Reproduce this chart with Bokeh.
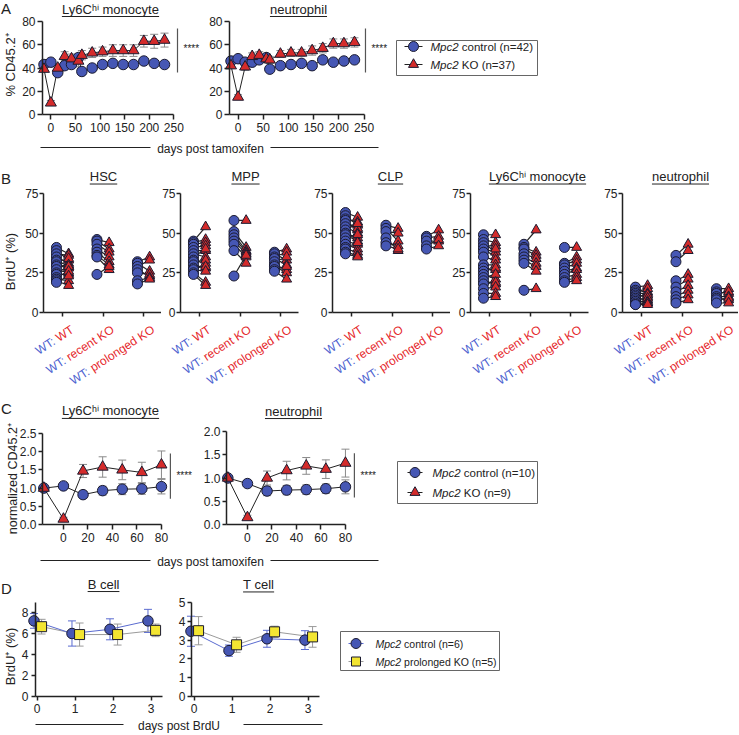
import math
from bokeh.plotting import figure
from bokeh.models import (Range1d, FixedTicker, Label, Whisker, TeeHead, ColumnDataSource,
                          PrintfTickFormatter)
from bokeh.layouts import column, row
from bokeh.embed import file_html
from bokeh.resources import INLINE

FONT = "Liberation Sans"
INK = "#222222"
BLUE = "#4657b4"
RED = "#d42b2b"
EDGE = "#1b1b30"
YELLOW = "#f3e532"
BLUE_TXT = "#4d5fcf"
RED_TXT = "#e5262a"
ERR = "#8a8a8a"
DBLUE = "#5a6bd0"
DGRAY = "#9a9a9a"

# ---------------- data ----------------
# Panel A
a_days = [-14, 0, 14, 28, 42, 56, 63, 84, 105, 126, 147, 168, 189, 210, 231]
a_mono_ctrl = [43, 45, 36, 42, 43, 49, 37, 40, 43, 44, 43, 43, 46, 44, 43]
a_mono_ctrl_err = [1.5, 1.5, 2, 2, 2, 3, 2.5, 2, 2, 2, 2, 2, 2, 2, 2]
a_mono_ko = [39, 10, 40, 50, 48, 46, 51, 53, 54, 55, 55, 55, 63, 63, 64]
a_mono_ko_err = [2, 2, 3, 4, 4, 5, 4, 4, 4, 5, 5, 5, 5, 6, 6]
a_neut_ctrl = [46, 48, 45, 45, 47, 49, 39, 42, 43, 44, 42, 47, 45, 46, 47]
a_neut_ctrl_err = [1.5, 1.5, 2, 2, 2, 2, 2, 2, 2, 2, 2, 2, 2, 2, 2]
a_neut_ko = [42, 15, 41, 50, 51, 48, 47, 52, 53, 53, 55, 57, 61, 61, 62]
a_neut_ko_err = [2, 2, 3, 3, 3, 3, 3, 3, 3, 3, 4, 4, 4, 4, 4]
a_xticks = [0, 50, 100, 150, 200, 250]
a_yticks = [0, 20, 40, 60, 80]

# Panel B  (paired values: WT partner -> KO partner, three groups each)
b_prefix = "WT:"
b_groups = ["WT", "recent KO", "prolonged KO"]
b_titles = ["HSC", "MPP", "CLP", "Ly6C\u02b0\u2071 monocyte", "neutrophil"]
b_yticks = [0, 25, 50, 75]
b_hsc_wt = [[41, 39, 37, 35, 33, 32, 30, 29, 27, 25, 24, 22, 21, 20, 19],
            [46, 45, 43, 40, 38, 36, 35, 24],
            [32, 31, 29, 27, 25, 20, 18]]
b_hsc_ko = [[37, 33, 36, 31, 29, 34, 28, 30, 25, 29, 24, 26, 20, 17, 23],
            [44, 40, 38, 35, 32, 30, 27, 29],
            [35, 26, 33, 23, 24, 22, 21]]
b_mpp_wt = [[45, 44, 43, 41, 39, 37, 35, 33, 32, 30, 28, 27, 25, 24],
            [58, 51, 49, 47, 45, 43, 39, 23],
            [38, 37, 35, 34, 32, 30, 29, 27, 26]]
b_mpp_ko = [[54, 46, 44, 42, 39, 35, 40, 31, 33, 28, 29, 26, 19, 17],
            [58, 41, 39, 38, 37, 35, 31, 36],
            [40, 33, 38, 30, 35, 27, 25, 29, 21]]
b_clp_wt = [[63, 61, 59, 58, 56, 54, 52, 50, 49, 47, 45, 43, 41, 40, 38, 37],
            [55, 53, 51, 47, 44, 42],
            [48, 47, 45, 42, 40]]
b_clp_ko = [[60, 55, 57, 52, 53, 50, 56, 47, 45, 49, 43, 40, 44, 38, 36, 35],
            [53, 45, 50, 39, 42, 40],
            [52, 48, 45, 46, 42]]
b_mono_wt = [[49, 46, 44, 42, 40, 38, 35, 30, 28, 26, 24, 22, 20, 18, 15, 12, 9],
             [43, 41, 40, 37, 35, 33, 31, 14],
             [41, 31, 30, 28, 26, 24, 22, 20, 19]]
b_mono_ko = [[49, 44, 38, 42, 35, 40, 33, 30, 27, 28, 21, 24, 18, 19, 16, 12, 10],
             [52, 38, 36, 34, 31, 29, 26, 15],
             [41, 35, 33, 31, 28, 27, 24, 22, 20]]
b_neut_wt = [[16, 14, 13, 12, 11, 10, 9, 8, 7, 6, 5, 5],
             [36, 32, 20, 16, 13, 10, 8, 6],
             [15, 13, 12, 10, 9, 8, 6]]
b_neut_ko = [[17, 13, 15, 12, 10, 11, 8, 9, 7, 6, 6, 5],
             [43, 39, 24, 21, 17, 14, 11, 8],
             [15, 12, 13, 10, 8, 9, 6]]

# Panel C
c_days = [-16, 0, 16, 32, 48, 64, 80]
c_mono_ctrl = [1.0, 1.06, 0.82, 0.93, 0.97, 0.98, 1.04]
c_mono_ctrl_err = [0.05, 0.08, 0.1, 0.12, 0.15, 0.15, 0.2]
c_mono_ko = [1.0, 0.15, 1.47, 1.58, 1.50, 1.43, 1.64]
c_mono_ko_err = [0.05, 0.05, 0.18, 0.28, 0.27, 0.28, 0.38]
c_neut_ctrl = [1.0, 0.88, 0.72, 0.74, 0.75, 0.77, 0.81]
c_neut_ctrl_err = [0.04, 0.06, 0.1, 0.1, 0.1, 0.1, 0.15]
c_neut_ko = [1.0, 0.15, 1.0, 1.16, 1.26, 1.19, 1.32]
c_neut_ko_err = [0.04, 0.05, 0.15, 0.2, 0.18, 0.2, 0.3]
c_xticks = [0, 20, 40, 60, 80]
c_mono_yticks = [0, 0.5, 1.0, 1.5, 2.0, 2.5]
c_neut_yticks = [0, 0.5, 1.0, 1.5, 2.0]

# Panel D
d_days = [0, 1, 2, 3]
d_b_ctrl = [7.2, 6.0, 6.4, 7.2]
d_b_ctrl_err = [0.7, 1.2, 1.0, 1.1]
d_b_ko = [6.65, 5.9, 5.9, 6.3]
d_b_ko_err = [0.7, 1.1, 1.0, 0.6]
d_t_ctrl = [3.47, 2.44, 3.07, 3.0]
d_t_ctrl_err = [0.8, 0.3, 0.45, 0.5]
d_t_ko = [3.5, 2.75, 3.44, 3.17]
d_t_ko_err = [0.75, 0.4, 0.3, 0.55]
d_b_yticks = [0, 2, 4, 6, 8]
d_t_yticks = [0, 1, 2, 3, 4, 5]

# ---------------- helpers ----------------
AW = {"W": 944, "T": 611, ":": 278, " ": 278, "r": 333, "e": 556, "c": 500, "n": 556,
      "t": 278, "K": 667, "O": 778, "p": 556, "o": 556, "l": 222, "g": 556, "d": 556,
      "M": 833, "2": 556, "i": 222, "y": 500, "L": 556, "6": 556, "C": 722, "m": 833,
      "h": 556, "u": 556, "H": 722, "S": 667, "P": 667, "\u02b0": 330, "\u2071": 200,
      "s": 500, "a": 556, "x": 500, "f": 278, "B": 667, "U": 722}


def tw(s, size):
    return sum(AW.get(ch, 556) for ch in s) * size / 1000.0


def make_fig(w, h, xr, yr, axes=True):
    kw = {} if axes else dict(x_axis_type=None, y_axis_type=None)
    p = figure(width=w, height=h, x_range=xr, y_range=yr, output_backend="svg",
               toolbar_location=None, min_border=0, min_border_left=0, min_border_right=0,
               min_border_top=0, min_border_bottom=0, **kw)
    p.outline_line_color = None
    p.background_fill_color = "white"
    p.border_fill_color = "white"
    for g in p.grid:
        g.visible = False
    return p


def data_fig(w, h, ax_px, ax_val, ppx, y0_px, ppy):
    """Frame covers the whole canvas; the axes are placed inside at fixed locations."""
    xs = ax_val - ax_px / ppx
    yt = y0_px / ppy
    return make_fig(w, h, Range1d(xs, xs + w / ppx), Range1d(yt - h / ppy, yt))


def style(ax, ticks, bounds, loc, tick_out=5, standoff=3):
    ax.fixed_location = loc
    ax.ticker = FixedTicker(ticks=ticks)
    ax.bounds = bounds
    ax.axis_line_width = 1.5
    ax.axis_line_color = INK
    ax.major_tick_line_width = 1.5
    ax.major_tick_line_color = INK
    ax.major_tick_out = tick_out
    ax.major_tick_in = 0
    ax.minor_tick_line_color = None
    ax.major_label_text_font = FONT
    ax.major_label_text_font_size = "12px"
    ax.major_label_text_color = INK
    ax.major_label_standoff = standoff


def lab(p, x, y, text, size="12px", color=INK, align="left", baseline="middle",
        angle=0.0, fstyle="normal", xo=0, yo=0):
    p.add_layout(Label(x=x, y=y, text=text, text_font=FONT, text_font_size=size,
                       text_color=color, text_align=align, text_baseline=baseline,
                       angle=angle, text_font_style=fstyle, x_offset=xo, y_offset=yo))


def title(p, cx, cy, text, ppx, ppy, size=13):
    lab(p, cx, cy, text, size="%dpx" % size, align="center", baseline="middle")
    w = tw(text, size)
    uy = cy - 7.5 / ppy
    p.segment([cx - w / 2 / ppx], [uy], [cx + w / 2 / ppx], [uy], line_color=INK, line_width=1)


def err_line(p, x, y, err, line_color, err_color):
    p.line(x, y, line_color=line_color, line_width=1)
    src = ColumnDataSource(dict(x=x, lo=[a - e for a, e in zip(y, err)],
                                hi=[a + e for a, e in zip(y, err)]))
    p.add_layout(Whisker(source=src, base="x", lower="lo", upper="hi",
                         line_color=err_color, line_width=1, level="underlay",
                         lower_head=TeeHead(size=8, line_color=err_color, line_width=1),
                         upper_head=TeeHead(size=8, line_color=err_color, line_width=1)))


def sig(p, x, y0, y1, ymid):
    p.segment([x], [y0], [x], [y1], line_color="#555555", line_width=1.2)
    lab(p, x, ymid, "****", size="10px", xo=6)


def legend_fig(w, h, box, ents, mx, tx, size=11.5):
    p = make_fig(w, h, Range1d(0, w), Range1d(h, 0), axes=False)
    l, t, r, b = box
    p.quad(left=[l], right=[r], top=[t], bottom=[b], fill_color=None, line_color="#666666", line_width=1)
    fs = "%gpx" % size
    for (y, marker, fill, lcol, msize, rest) in ents:
        p.segment([mx[0]], [y], [mx[1]], [y], line_color=lcol, line_width=1)
        p.scatter([(mx[0] + mx[1]) / 2], [y], marker=marker, size=msize, fill_color=fill,
                  line_color=EDGE, line_width=1)
        lab(p, tx, y, "Mpc2", size=fs, fstyle="italic")
        lab(p, tx + tw("Mpc2", size) + tw(" ", size), y, rest, size=fs)
    return p


def xlabel_fig(w, h, text, cx, cy, segs):
    p = make_fig(w, h, Range1d(0, w), Range1d(h, 0), axes=False)
    for (x0, x1) in segs:
        p.segment([x0], [cy - 1], [x1], [cy - 1], line_color=INK, line_width=1)
    lab(p, cx, cy, text, size="12px", align="center", baseline="middle")
    return p


# ---------------- Row A ----------------
APY = 1.1625
pA1 = data_fig(200, 138, 42, -17, 0.492, 114, APY)
style(pA1.xaxis[0], a_xticks, (-17, 250), 0)
style(pA1.yaxis[0], a_yticks, (0, 80), -17, standoff=2)
err_line(pA1, a_days, a_mono_ctrl, a_mono_ctrl_err, INK, ERR)
err_line(pA1, a_days, a_mono_ko, a_mono_ko_err, INK, ERR)
pA1.scatter(a_days, a_mono_ctrl, marker="circle", size=10.5, fill_color=BLUE, line_color=EDGE)
pA1.scatter(a_days, a_mono_ko, marker="triangle", size=11, fill_color=RED, line_color=EDGE)
sig(pA1, 257.4, 36.1, 74, 56.8)
title(pA1, 121.2, 90.75, "Ly6C\u02b0\u2071 monocyte", 0.492, APY)
lab(pA1, -101.3, 91.2, "A", size="15px")
lab(pA1, -82, 42.6, "% CD45.2\u207a", size="13px", align="center", angle=math.pi / 2)

pA2 = data_fig(193, 138, 29, -17, 0.504, 114, APY)
style(pA2.xaxis[0], a_xticks, (-17, 250), 0)
style(pA2.yaxis[0], a_yticks, (0, 80), -17, standoff=2)
err_line(pA2, a_days, a_neut_ctrl, a_neut_ctrl_err, INK, ERR)
err_line(pA2, a_days, a_neut_ko, a_neut_ko_err, INK, ERR)
pA2.scatter(a_days, a_neut_ctrl, marker="circle", size=10.5, fill_color=BLUE, line_color=EDGE)
pA2.scatter(a_days, a_neut_ko, marker="triangle", size=11, fill_color=RED, line_color=EDGE)
sig(pA2, 252.8, 36.1, 74, 56.8)
title(pA2, 119.9, 90.75, "neutrophil", 0.504, APY)

pAleg = legend_fig(346, 138, (3, 40, 144, 75),
                   [(46, "circle", BLUE, INK, 10, "control (n=42)"),
                    (64, "triangle", RED, INK, 10, "KO (n=37)")],
                   (11, 29), 37)

pAx = xlabel_fig(738, 20, "days post tamoxifen", 210, 10, [(40, 150), (270, 378)])

# ---------------- Row B ----------------
ANG = math.radians(33)
CA, SA = math.cos(ANG), math.sin(ANG)
BPX = 40.5
BPY = 1.5867
BAX = 0.53
BFS = 12


def b_panel(ttl, wt, ko, w, left, title_px, first=False):
    p = data_fig(w, 237, left, BAX, BPX, 154, BPY)
    style(p.xaxis[0], [1, 2, 3], (BAX, 3.45), 0, tick_out=4)
    p.xaxis[0].major_label_overrides = {1: "", 2: "", 3: ""}
    style(p.yaxis[0], b_yticks, (0, 75), BAX, tick_out=4, standoff=1)
    for gi in range(3):
        c = gi + 1
        xb = [c - 0.15] * len(wt[gi])
        xr = [c + 0.15] * len(ko[gi])
        p.segment(xb, wt[gi], xr, ko[gi], line_color=INK, line_width=1.2)
    for gi in range(3):
        c = gi + 1
        xb = [c - 0.15] * len(wt[gi])
        xr = [c + 0.15] * len(ko[gi])
        p.scatter(xb, wt[gi], marker="circle", size=10, fill_color=BLUE, line_color=EDGE)
        p.scatter(xr, ko[gi], marker="triangle", size=10, fill_color=RED, line_color=EDGE)
        name = b_groups[gi]
        lab(p, c, 0, name, size="%gpx" % BFS, color=RED_TXT, align="right", baseline="top",
            angle=ANG, xo=6, yo=-10)
        d = tw(name, BFS) + tw(" ", BFS)
        lab(p, c, 0, b_prefix, size="%gpx" % BFS, color=BLUE_TXT, align="right", baseline="top",
            angle=ANG, xo=6 - d * CA, yo=-10 - d * SA)
    title(p, BAX + title_px / BPX, 85.7, ttl, BPX, BPY)
    if first:
        lab(p, BAX - 42.5 / BPX, 84.45, "B", size="15px")
        lab(p, BAX - 33 / BPX, 32.1, "BrdU\u207a (%)", size="13px", align="center", angle=math.pi / 2)
    return p


pB1 = b_panel(b_titles[0], b_hsc_wt, b_hsc_ko, 161, 43, 60, first=True)
pB2 = b_panel(b_titles[1], b_mpp_wt, b_mpp_ko, 151, 19, 65)
pB3 = b_panel(b_titles[2], b_clp_wt, b_clp_ko, 138, 20, 58)
pB4 = b_panel(b_titles[3], b_mono_wt, b_mono_ko, 152, 20, 67)
pB5 = b_panel(b_titles[4], b_neut_wt, b_neut_ko, 136, 20, 58)

# ---------------- Row C ----------------
CPX = 1.225
CAX = -17.1
pC1 = data_fig(198, 157, 42, CAX, CPX, 129, 36.4)
style(pC1.xaxis[0], c_xticks, (CAX, 80), 0)
style(pC1.yaxis[0], c_mono_yticks, (0, 2.5), CAX, tick_out=4, standoff=2)
pC1.yaxis[0].formatter = PrintfTickFormatter(format="%.1f")
err_line(pC1, c_days, c_mono_ctrl, c_mono_ctrl_err, INK, ERR)
err_line(pC1, c_days, c_mono_ko, c_mono_ko_err, INK, ERR)
pC1.scatter(c_days, c_mono_ctrl, marker="circle", size=10.5, fill_color=BLUE, line_color=EDGE)
pC1.scatter(c_days, c_mono_ko, marker="triangle", size=11, fill_color=RED, line_color=EDGE)
sig(pC1, 87.3, 0.71, 1.95, 1.35)
title(pC1, 38.4, 3.12, "Ly6C\u02b0\u2071 monocyte", CPX, 36.4)
lab(pC1, CAX - 41.5 / CPX, 3.2, "C", size="15px")
lab(pC1, CAX - 29.5 / CPX, 1.26, "normalized CD45.2\u207a", size="12.5px", align="center", angle=math.pi / 2)

pC2 = data_fig(195, 157, 28, CAX, CPX, 129, 46.5)
style(pC2.xaxis[0], c_xticks, (CAX, 80), 0)
style(pC2.yaxis[0], c_neut_yticks, (0, 2.0), CAX, tick_out=4, standoff=2)
pC2.yaxis[0].formatter = PrintfTickFormatter(format="%.1f")
err_line(pC2, c_days, c_neut_ctrl, c_neut_ctrl_err, INK, ERR)
err_line(pC2, c_days, c_neut_ko, c_neut_ko_err, INK, ERR)
pC2.scatter(c_days, c_neut_ctrl, marker="circle", size=10.5, fill_color=BLUE, line_color=EDGE)
pC2.scatter(c_days, c_neut_ko, marker="triangle", size=11, fill_color=RED, line_color=EDGE)
sig(pC2, 87.3, 0.58, 1.53, 1.05)
title(pC2, 37.6, 2.44, "neutrophil", CPX, 46.5)

pCleg = legend_fig(345, 157, (4, 66, 144, 108),
                   [(77, "circle", BLUE, INK, 10, "control (n=10)"),
                    (97, "triangle", RED, INK, 10, "KO (n=9)")],
                   (14, 29), 39)

pCx = xlabel_fig(738, 18, "days post tamoxifen", 210, 9, [(40, 150), (270, 378)])

# ---------------- Row D ----------------
D_OFF_CTRL = -0.08
D_OFF_KO = 0.12
dx_ctrl = [d + D_OFF_CTRL for d in d_days]
dx_ko = [d + D_OFF_KO for d in d_days]
DPX = 38.0

pD1 = data_fig(175, 148, 35, -0.04, DPX, 126, 10.5)
style(pD1.xaxis[0], d_days, (-0.04, 3.3), 0, tick_out=4)
style(pD1.yaxis[0], d_b_yticks, (0, 9), -0.04, tick_out=4)
err_line(pD1, dx_ko, d_b_ko, d_b_ko_err, DGRAY, DGRAY)
err_line(pD1, dx_ctrl, d_b_ctrl, d_b_ctrl_err, DBLUE, DBLUE)
pD1.scatter(dx_ctrl, d_b_ctrl, marker="circle", size=10.5, fill_color=BLUE, line_color=EDGE)
pD1.scatter(dx_ko, d_b_ko, marker="square", size=10, fill_color=YELLOW, line_color=EDGE)
title(pD1, 1.75, 10.71, "B cell", DPX, 10.5)
lab(pD1, -0.04 - 34.5 / DPX, 10.29, "D", size="15px")
lab(pD1, -0.04 - 25 / DPX, 3.81, "BrdU\u207a (%)", size="13px", align="center", angle=math.pi / 2)

pD2 = data_fig(163, 148, 16, -0.066, DPX, 126, 18.8)
style(pD2.xaxis[0], d_days, (-0.066, 3.3), 0, tick_out=4)
style(pD2.yaxis[0], d_t_yticks, (0, 5), -0.066, tick_out=4, standoff=2)
err_line(pD2, dx_ko, d_t_ko, d_t_ko_err, DGRAY, DGRAY)
err_line(pD2, dx_ctrl, d_t_ctrl, d_t_ctrl_err, DBLUE, DBLUE)
pD2.scatter(dx_ctrl, d_t_ctrl, marker="circle", size=10.5, fill_color=BLUE, line_color=EDGE)
pD2.scatter(dx_ko, d_t_ko, marker="square", size=10, fill_color=YELLOW, line_color=EDGE)
title(pD2, 1.70, 5.96, "T cell", DPX, 18.8)

pDleg = legend_fig(400, 148, (2, 61, 161, 100),
                   [(73, "circle", BLUE, DBLUE, 10, "control (n=6)"),
                    (91, "square", YELLOW, DGRAY, 9, "prolonged KO (n=5)")],
                   (10, 25), 37, size=10.5)

pDx = xlabel_fig(738, 16, "days post BrdU", 178.5, 7, [(35, 123), (243, 322)])

layout = column(
    row(pA1, pA2, pAleg),
    pAx,
    row(pB1, pB2, pB3, pB4, pB5),
    row(pC1, pC2, pCleg),
    pCx,
    row(pD1, pD2, pDleg),
    pDx,
)

open("out.html", "w").write(file_html(layout, INLINE))
